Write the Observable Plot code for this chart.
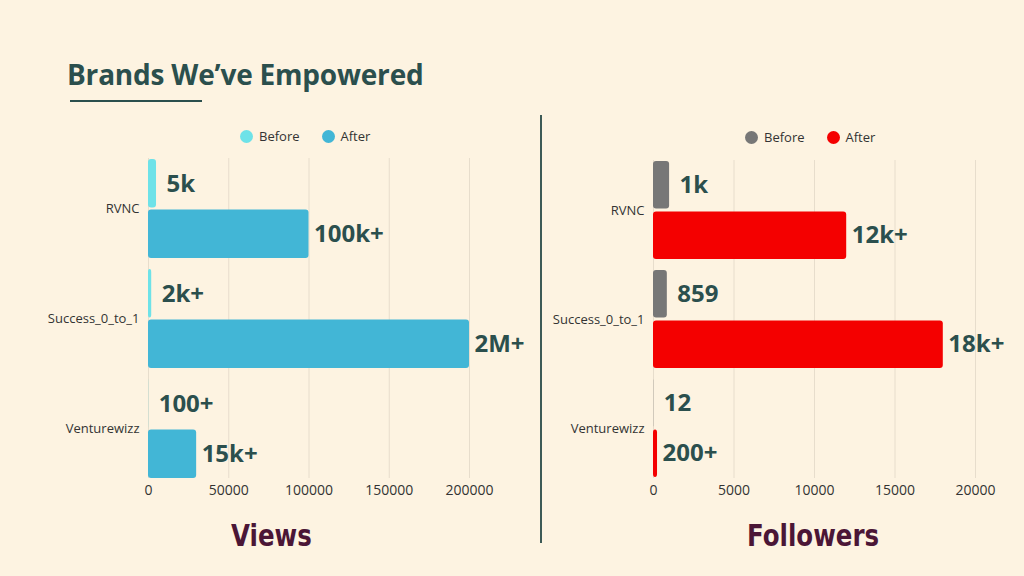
<!DOCTYPE html>
<html>
<head>
<meta charset="utf-8">
<script src="https://cdn.jsdelivr.net/npm/d3@7"></script>
<script src="https://cdn.jsdelivr.net/npm/@observablehq/plot@0.6"></script>
<style>
  html, body { margin: 0; padding: 0; }
  body { width: 1024px; height: 576px; background: #fdf3e1; position: relative; overflow: hidden; font-family: "Open Sans", sans-serif; }
  .abs { position: absolute; }
  #title { left: 67px; top: 55px; font-size: 28px; font-weight: 700; color: #2b4f4d; letter-spacing: -0.2px; white-space: nowrap; }
  #underline { left: 70px; top: 100px; width: 132px; height: 2px; background: #2b4f4d; }
  #divider { left: 540px; top: 115px; width: 2px; height: 428px; background: #3d5a56; }
  .legend { font-size: 13px; color: #333; display: flex; align-items: center; white-space: nowrap; }
  .legend .dot { width: 13px; height: 13px; border-radius: 50%; display: inline-block; margin-right: 6px; }
  .legend .item { display: flex; align-items: center; margin-right: 22px; }
  .subtitle { font-family: "DejaVu Sans", sans-serif; font-weight: 700; font-size: 31px; color: #4b1636; white-space: nowrap; transform: scaleX(0.79); transform-origin: left center; }
  svg { overflow: visible; }
</style>
</head>
<body>
<div id="title" class="abs">Brands We’ve Empowered</div>
<div id="underline" class="abs"></div>
<div id="divider" class="abs"></div>
<div id="legendL" class="abs legend" style="left:240px; top:127px;"></div>
<div id="legendR" class="abs legend" style="left:745px; top:128px;"></div>
<div id="chartL" class="abs" style="left:0px; top:150px;"></div>
<div id="chartR" class="abs" style="left:512px; top:152px;"></div>
<div class="abs subtitle" style="left:231px; top:517px;">Views</div>
<div class="abs subtitle" style="left:747px; top:517px;">Followers</div>
<script>
const brands = ["RVNC", "Success_0_to_1", "Venturewizz"];
const seriesNames = ["Before", "After"];

const viewsBefore = [5000, 2000, 100];
const viewsAfter = [100000, 200000, 30000];
const viewsBeforeLabels = ["5k", "2k+", "100+"];
const viewsAfterLabels = ["100k+", "2M+", "15k+"];
const viewTicks = [0, 50000, 100000, 150000, 200000];

const followersBefore = [1000, 859, 12];
const followersAfter = [12000, 18000, 250];
const followersBeforeLabels = ["1k", "859", "12"];
const followersAfterLabels = ["12k+", "18k+", "200+"];
const followerTicks = [0, 5000, 10000, 15000, 20000];

const viewColors = ["#6ee2e8", "#42b6d6"];
const followerColors = ["#777777", "#f40000"];

function rows(before, after, bLab, aLab) {
  return brands.map((b, i) => ({brand: b, before: before[i], after: after[i], bLabel: bLab[i], aLabel: aLab[i]}));
}

function legend(el, colors) {
  const d = document.getElementById(el);
  seriesNames.forEach((s, i) => {
    const it = document.createElement("span");
    it.className = "item";
    it.innerHTML = `<span class="dot" style="background:${colors[i]}"></span>${s}`;
    d.appendChild(it);
  });
}

function chart(data, ticks, domainMax, colors, width, height, marginLeft, xRange) {
  const half = 50.6;
  return Plot.plot({
    width, height,
    marginTop: 8, marginBottom: 22, marginLeft, marginRight: width - xRange[1],
    style: {background: "transparent", fontFamily: "Open Sans, sans-serif", overflow: "visible"},
    x: {domain: [0, domainMax], range: xRange, ticks, tickFormat: d => String(d), tickSize: 0, tickPadding: 7, label: null},
    y: {domain: brands, padding: 0.1, paddingOuter: 0, label: null, tickSize: 0, tickPadding: 9},
    marks: [
      Plot.ruleX(ticks, {stroke: "#e7ddcc", strokeWidth: 1}),
      Plot.barX(data, {x: "before", y: "brand", fill: colors[0], insetBottom: half, rx: 3}),
      Plot.barX(data, {x: "after", y: "brand", fill: colors[1], insetTop: half, rx: 3}),
      Plot.text(data, {x: "before", y: "brand", text: "bLabel", dy: -25, dx: 10, textAnchor: "start", fontSize: 24, fontWeight: 700, fill: "#2b4f4d"}),
      Plot.text(data, {x: "after", y: "brand", text: "aLabel", dy: 25, dx: 5, textAnchor: "start", fontSize: 24, fontWeight: 700, fill: "#2b4f4d"}),
      Plot.axisX({ticks, tickFormat: d => String(d), tickSize: 0, tickPadding: 7, fontSize: 14, fill: "#333", label: null}),
      Plot.axisY({tickSize: 0, tickPadding: 9, fontSize: 13, fill: "#333", label: null})
    ]
  });
}

legend("legendL", viewColors);
legend("legendR", followerColors);

document.getElementById("chartL").appendChild(
  chart(rows(viewsBefore, viewsAfter, viewsBeforeLabels, viewsAfterLabels), viewTicks, 200000, viewColors, 510, 350, 148, [148, 469])
);
document.getElementById("chartR").appendChild(
  chart(rows(followersBefore, followersAfter, followersBeforeLabels, followersAfterLabels), followerTicks, 20000, followerColors, 500, 348, 141, [141, 463])
);
</script>
</body>
</html>
